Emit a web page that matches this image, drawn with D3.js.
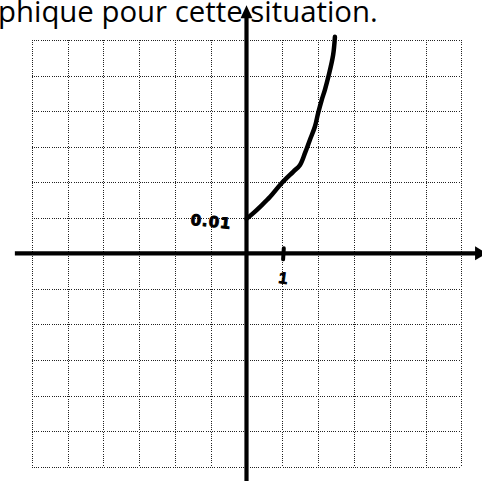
<!DOCTYPE html>
<html>
<head>
<meta charset="utf-8">
<script src="https://cdn.jsdelivr.net/npm/d3@7/dist/d3.min.js"></script>
<style>
  html, body { margin: 0; padding: 0; background: #fff; }
  svg { display: block; }
</style>
</head>
<body>
<svg id="chart" width="482" height="481"></svg>
<script>
// Grid lines, one per unit (x) and per 0.01 (y)
const gridX = d3.range(-6, 7);
const gridY = d3.range(-6, 7).map(k => k / 100);

// Axis extents (data units), including the arrow tips
const xAxisSpan = [-6.47, 6.72];
const yAxisSpan = [-0.0685, 0.0698];

// Labelled points on the axes
const yLabelValue = 0.01, yLabelText = "0.01";
const xLabelValue = 1, xLabelText = "1";

// Hand-drawn growth curve, starting at (0, 0.01)
const curveX = [0, 0.19, 0.38, 0.66, 0.98, 1.31, 1.49, 1.63, 1.77, 1.91, 2.0, 2.1, 2.19, 2.3, 2.42, 2.47];
const curveY = [0.0097, 0.0113, 0.0131, 0.0159, 0.0197, 0.0230, 0.0248, 0.0281, 0.0319, 0.0356, 0.0394, 0.0431, 0.0460, 0.0502, 0.0558, 0.0609];

const titleText = "phique pour cette situation.";

const svg = d3.select("#chart");

const x = d3.scaleLinear().domain([-6, 6]).range([31.7, 461.3]);
const y = d3.scaleLinear().domain([-0.06, 0.06]).range([466.7, 40]);

// Title line (continues from the left edge of the page)
const title = svg.append("text")
  .attr("x", -2)
  .attr("y", 22)
  .attr("font-family", "'Open Sans', sans-serif")
  .attr("font-size", 26)
  .attr("fill", "#000")
  .style("font-variant-ligatures", "none")
  .text(titleText);
// fit the line so that it ends just past x = 378
const tw = title.node().getComputedTextLength();
title.attr("font-size", 26 * 380 / tw);

// Dotted grid
const grid = svg.append("g")
  .attr("stroke", "#222")
  .attr("stroke-width", 1)
  .attr("stroke-dasharray", "1,1.2")
  .attr("shape-rendering", "crispEdges");

grid.selectAll("line.v").data(gridX).join("line")
  .attr("class", "v")
  .attr("x1", d => Math.round(x(d)) + 0.5).attr("x2", d => Math.round(x(d)) + 0.5)
  .attr("y1", y(0.06)).attr("y2", y(-0.06));

grid.selectAll("line.h").data(gridY).join("line")
  .attr("class", "h")
  .attr("y1", d => Math.round(y(d)) + 0.5).attr("y2", d => Math.round(y(d)) + 0.5)
  .attr("x1", x(-6)).attr("x2", x(6));

// Axes with arrowheads
const axes = svg.append("g").attr("fill", "#000").attr("stroke", "#000");
const arrowLen = 12, arrowHalf = 7;

axes.append("line")
  .attr("x1", x(xAxisSpan[0])).attr("x2", x(xAxisSpan[1]) - arrowLen + 1)
  .attr("y1", y(0)).attr("y2", y(0))
  .attr("stroke-width", 4.2);
axes.append("path")
  .attr("stroke", "none")
  .attr("d", () => {
    const tx = x(xAxisSpan[1]), ty = y(0);
    return `M${tx},${ty} L${tx - arrowLen},${ty - arrowHalf} L${tx - arrowLen},${ty + arrowHalf} Z`;
  });

axes.append("line")
  .attr("x1", x(0)).attr("x2", x(0))
  .attr("y1", y(yAxisSpan[0])).attr("y2", y(yAxisSpan[1]) + arrowLen - 1)
  .attr("stroke-width", 4.2);
axes.append("path")
  .attr("stroke", "none")
  .attr("d", () => {
    const tx = x(0), ty = y(yAxisSpan[1]);
    return `M${tx},${ty} L${tx - 6},${ty + arrowLen + 1} L${tx + 6},${ty + arrowLen + 1} Z`;
  });

// Curve
const pts = curveX.map((d, i) => [d, curveY[i]]);
const line = d3.line()
  .x(d => x(d[0]))
  .y(d => y(d[1]))
  .curve(d3.curveCatmullRom.alpha(0.5));

svg.append("path")
  .datum(pts)
  .attr("d", line)
  .attr("fill", "none")
  .attr("stroke", "#000")
  .attr("stroke-width", 4.5)
  .attr("stroke-linecap", "round")
  .attr("stroke-linejoin", "round");

// Tick mark at x = 1
svg.append("line")
  .attr("x1", x(xLabelValue) + 1.5).attr("x2", x(xLabelValue) + 0.8)
  .attr("y1", y(0) - 5).attr("y2", y(0) + 6)
  .attr("stroke", "#000")
  .attr("stroke-width", 4)
  .attr("stroke-linecap", "round");

// Axis labels
svg.append("text")
  .attr("x", x(xLabelValue) + 1)
  .attr("y", y(0) + 30)
  .attr("text-anchor", "middle")
  .attr("font-family", "'Liberation Sans', sans-serif")
  .attr("font-weight", "bold")
  .attr("font-size", 16)
  .attr("stroke", "#000")
  .attr("stroke-width", 0.8)
  .attr("transform", `rotate(8, ${x(xLabelValue) + 1}, ${y(0) + 24})`)
  .text(xLabelText);

svg.append("text")
  .attr("x", x(0) - 15)
  .attr("y", y(yLabelValue) + 9)
  .attr("text-anchor", "end")
  .attr("font-family", "'DejaVu Sans', sans-serif")
  .attr("font-weight", "bold")
  .attr("font-size", 15)
  .attr("stroke", "#000")
  .attr("stroke-width", 0.9)
  .attr("letter-spacing", "1")
  .attr("transform", `rotate(6, ${x(0) - 36}, ${y(yLabelValue) + 5})`)
  .text(yLabelText);
</script>
</body>
</html>
